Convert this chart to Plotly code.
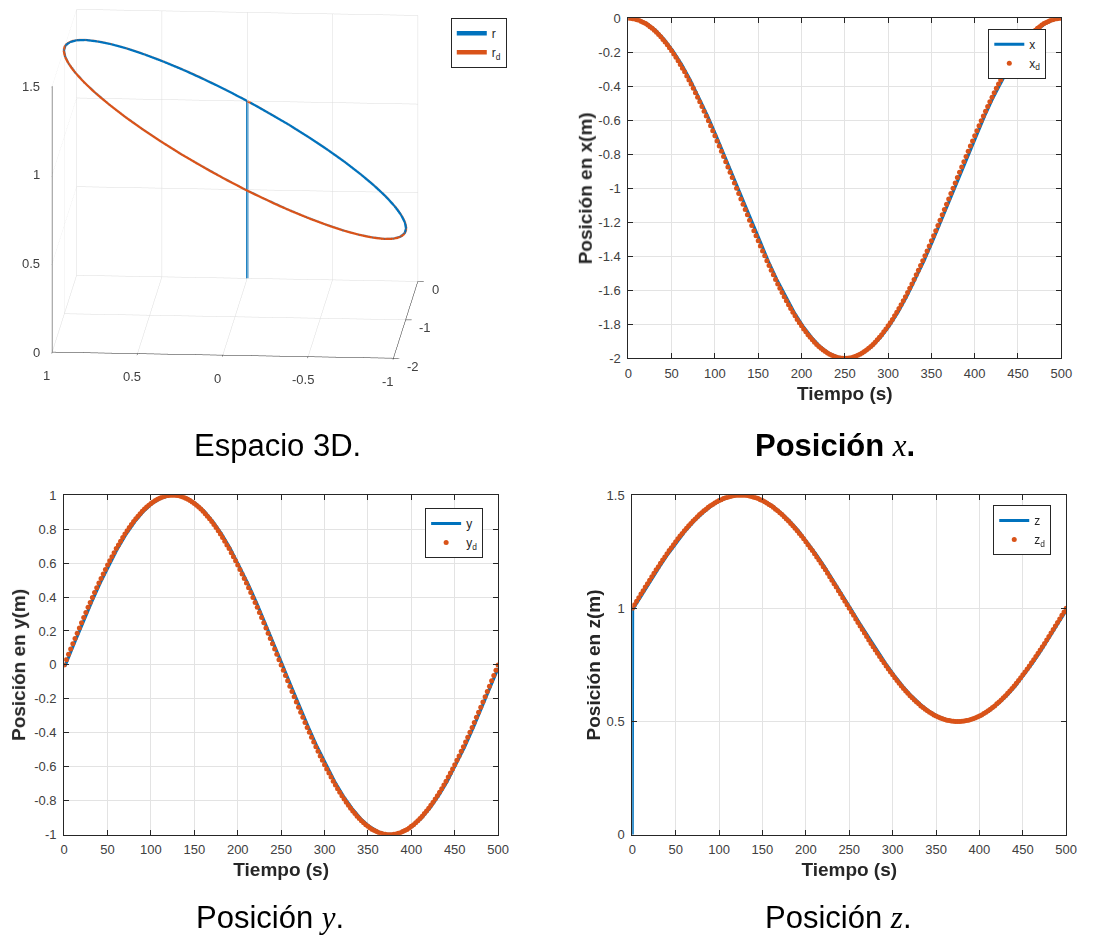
import plotly.graph_objects as go

# ---------------- data ----------------
t_d = [
    0, 2.5, 5, 7.5, 10, 12.5, 15, 17.5, 20, 22.5, 25, 27.5, 30, 32.5, 35, 37.5, 40, 42.5, 45, 47.5,
    50, 52.5, 55, 57.5, 60, 62.5, 65, 67.5, 70, 72.5, 75, 77.5, 80, 82.5, 85, 87.5, 90, 92.5, 95, 97.5,
    100, 102.5, 105, 107.5, 110, 112.5, 115, 117.5, 120, 122.5, 125, 127.5, 130, 132.5, 135, 137.5, 140, 142.5, 145, 147.5,
    150, 152.5, 155, 157.5, 160, 162.5, 165, 167.5, 170, 172.5, 175, 177.5, 180, 182.5, 185, 187.5, 190, 192.5, 195, 197.5,
    200, 202.5, 205, 207.5, 210, 212.5, 215, 217.5, 220, 222.5, 225, 227.5, 230, 232.5, 235, 237.5, 240, 242.5, 245, 247.5,
    250, 252.5, 255, 257.5, 260, 262.5, 265, 267.5, 270, 272.5, 275, 277.5, 280, 282.5, 285, 287.5, 290, 292.5, 295, 297.5,
    300, 302.5, 305, 307.5, 310, 312.5, 315, 317.5, 320, 322.5, 325, 327.5, 330, 332.5, 335, 337.5, 340, 342.5, 345, 347.5,
    350, 352.5, 355, 357.5, 360, 362.5, 365, 367.5, 370, 372.5, 375, 377.5, 380, 382.5, 385, 387.5, 390, 392.5, 395, 397.5,
    400, 402.5, 405, 407.5, 410, 412.5, 415, 417.5, 420, 422.5, 425, 427.5, 430, 432.5, 435, 437.5, 440, 442.5, 445, 447.5,
    450, 452.5, 455, 457.5, 460, 462.5, 465, 467.5, 470, 472.5, 475, 477.5, 480, 482.5, 485, 487.5, 490, 492.5, 495, 497.5,
    500,
]

x_d = [
    0.000, 0.000, -0.002, -0.004, -0.008, -0.012, -0.018, -0.024, -0.031, -0.040,
    -0.049, -0.059, -0.070, -0.082, -0.095, -0.109, -0.124, -0.139, -0.156, -0.173,
    -0.191, -0.210, -0.229, -0.250, -0.271, -0.293, -0.315, -0.339, -0.363, -0.387,
    -0.412, -0.438, -0.464, -0.491, -0.518, -0.546, -0.574, -0.603, -0.632, -0.661,
    -0.691, -0.721, -0.751, -0.782, -0.813, -0.844, -0.875, -0.906, -0.937, -0.969,
    -1.000, -1.031, -1.063, -1.094, -1.125, -1.156, -1.187, -1.218, -1.249, -1.279,
    -1.309, -1.339, -1.368, -1.397, -1.426, -1.454, -1.482, -1.509, -1.536, -1.562,
    -1.588, -1.613, -1.637, -1.661, -1.685, -1.707, -1.729, -1.750, -1.771, -1.790,
    -1.809, -1.827, -1.844, -1.861, -1.876, -1.891, -1.905, -1.918, -1.930, -1.941,
    -1.951, -1.960, -1.969, -1.976, -1.982, -1.988, -1.992, -1.996, -1.998, -2.000,
    -2.000, -2.000, -1.998, -1.996, -1.992, -1.988, -1.982, -1.976, -1.969, -1.960,
    -1.951, -1.941, -1.930, -1.918, -1.905, -1.891, -1.876, -1.861, -1.844, -1.827,
    -1.809, -1.790, -1.771, -1.750, -1.729, -1.707, -1.685, -1.661, -1.637, -1.613,
    -1.588, -1.562, -1.536, -1.509, -1.482, -1.454, -1.426, -1.397, -1.368, -1.339,
    -1.309, -1.279, -1.249, -1.218, -1.187, -1.156, -1.125, -1.094, -1.063, -1.031,
    -1.000, -0.969, -0.937, -0.906, -0.875, -0.844, -0.813, -0.782, -0.751, -0.721,
    -0.691, -0.661, -0.632, -0.603, -0.574, -0.546, -0.518, -0.491, -0.464, -0.438,
    -0.412, -0.387, -0.363, -0.339, -0.315, -0.293, -0.271, -0.250, -0.229, -0.210,
    -0.191, -0.173, -0.156, -0.139, -0.124, -0.109, -0.095, -0.082, -0.070, -0.059,
    -0.049, -0.040, -0.031, -0.024, -0.018, -0.012, -0.008, -0.004, -0.002, 0.000,
    0.000,
]

y_d = [
    0.000, 0.031, 0.063, 0.094, 0.125, 0.156, 0.187, 0.218, 0.249, 0.279,
    0.309, 0.339, 0.368, 0.397, 0.426, 0.454, 0.482, 0.509, 0.536, 0.562,
    0.588, 0.613, 0.637, 0.661, 0.685, 0.707, 0.729, 0.750, 0.771, 0.790,
    0.809, 0.827, 0.844, 0.861, 0.876, 0.891, 0.905, 0.918, 0.930, 0.941,
    0.951, 0.960, 0.969, 0.976, 0.982, 0.988, 0.992, 0.996, 0.998, 1.000,
    1.000, 1.000, 0.998, 0.996, 0.992, 0.988, 0.982, 0.976, 0.969, 0.960,
    0.951, 0.941, 0.930, 0.918, 0.905, 0.891, 0.876, 0.861, 0.844, 0.827,
    0.809, 0.790, 0.771, 0.750, 0.729, 0.707, 0.685, 0.661, 0.637, 0.613,
    0.588, 0.562, 0.536, 0.509, 0.482, 0.454, 0.426, 0.397, 0.368, 0.339,
    0.309, 0.279, 0.249, 0.218, 0.187, 0.156, 0.125, 0.094, 0.063, 0.031,
    0.000, -0.031, -0.063, -0.094, -0.125, -0.156, -0.187, -0.218, -0.249, -0.279,
    -0.309, -0.339, -0.368, -0.397, -0.426, -0.454, -0.482, -0.509, -0.536, -0.562,
    -0.588, -0.613, -0.637, -0.661, -0.685, -0.707, -0.729, -0.750, -0.771, -0.790,
    -0.809, -0.827, -0.844, -0.861, -0.876, -0.891, -0.905, -0.918, -0.930, -0.941,
    -0.951, -0.960, -0.969, -0.976, -0.982, -0.988, -0.992, -0.996, -0.998, -1.000,
    -1.000, -1.000, -0.998, -0.996, -0.992, -0.988, -0.982, -0.976, -0.969, -0.960,
    -0.951, -0.941, -0.930, -0.918, -0.905, -0.891, -0.876, -0.861, -0.844, -0.827,
    -0.809, -0.790, -0.771, -0.750, -0.729, -0.707, -0.685, -0.661, -0.637, -0.613,
    -0.588, -0.562, -0.536, -0.509, -0.482, -0.454, -0.426, -0.397, -0.368, -0.339,
    -0.309, -0.279, -0.249, -0.218, -0.187, -0.156, -0.125, -0.094, -0.063, -0.031,
    0.000,
]

z_d = [
    1.000, 1.016, 1.031, 1.047, 1.063, 1.078, 1.094, 1.109, 1.124, 1.140,
    1.155, 1.170, 1.184, 1.199, 1.213, 1.227, 1.241, 1.255, 1.268, 1.281,
    1.294, 1.307, 1.319, 1.331, 1.343, 1.354, 1.365, 1.375, 1.386, 1.395,
    1.405, 1.414, 1.422, 1.431, 1.438, 1.446, 1.453, 1.459, 1.465, 1.471,
    1.476, 1.480, 1.485, 1.488, 1.491, 1.494, 1.496, 1.498, 1.499, 1.500,
    1.500, 1.500, 1.499, 1.498, 1.496, 1.494, 1.491, 1.488, 1.485, 1.480,
    1.476, 1.471, 1.465, 1.459, 1.453, 1.446, 1.438, 1.431, 1.422, 1.414,
    1.405, 1.395, 1.386, 1.375, 1.365, 1.354, 1.343, 1.331, 1.319, 1.307,
    1.294, 1.281, 1.268, 1.255, 1.241, 1.227, 1.213, 1.199, 1.184, 1.170,
    1.155, 1.140, 1.124, 1.109, 1.094, 1.078, 1.063, 1.047, 1.031, 1.016,
    1.000, 0.984, 0.969, 0.953, 0.937, 0.922, 0.906, 0.891, 0.876, 0.860,
    0.845, 0.830, 0.816, 0.801, 0.787, 0.773, 0.759, 0.745, 0.732, 0.719,
    0.706, 0.693, 0.681, 0.669, 0.657, 0.646, 0.635, 0.625, 0.614, 0.605,
    0.595, 0.586, 0.578, 0.569, 0.562, 0.554, 0.547, 0.541, 0.535, 0.529,
    0.524, 0.520, 0.515, 0.512, 0.509, 0.506, 0.504, 0.502, 0.501, 0.500,
    0.500, 0.500, 0.501, 0.502, 0.504, 0.506, 0.509, 0.512, 0.515, 0.520,
    0.524, 0.529, 0.535, 0.541, 0.547, 0.554, 0.562, 0.569, 0.578, 0.586,
    0.595, 0.605, 0.614, 0.625, 0.635, 0.646, 0.657, 0.669, 0.681, 0.693,
    0.706, 0.719, 0.732, 0.745, 0.759, 0.773, 0.787, 0.801, 0.816, 0.830,
    0.845, 0.860, 0.876, 0.891, 0.906, 0.922, 0.937, 0.953, 0.969, 0.984,
    1.000,
]

# measured (actual) trajectory, lagging the reference slightly
t_act = [
    0, 0.5, 1.5, 11.5, 21.5, 31.5, 41.5, 51.5, 61.5, 71.5, 81.5, 91.5,
    101.5, 111.5, 121.5, 131.5, 141.5, 151.5, 161.5, 171.5, 181.5, 191.5,
    201.5, 211.5, 221.5, 231.5, 241.5, 251.5, 261.5, 271.5, 281.5, 291.5,
    301.5, 311.5, 321.5, 331.5, 341.5, 351.5, 361.5, 371.5, 381.5, 391.5,
    401.5, 411.5, 421.5, 431.5, 441.5, 451.5, 461.5, 471.5, 481.5, 491.5,
    500,
]
x_act = [
    0.000, 0.000, 0.000, -0.008, -0.031, -0.070, -0.124, -0.191, -0.271, -0.363, -0.464, -0.574,
    -0.691, -0.813, -0.937, -1.063, -1.187, -1.309, -1.426, -1.536, -1.637, -1.729,
    -1.809, -1.876, -1.930, -1.969, -1.992, -2.000, -1.992, -1.969, -1.930, -1.876,
    -1.809, -1.729, -1.637, -1.536, -1.426, -1.309, -1.187, -1.063, -0.937, -0.813,
    -0.691, -0.574, -0.464, -0.363, -0.271, -0.191, -0.124, -0.070, -0.031, -0.008,
    0.000,
]
y_act = [
    0.000, 0.000, 0.000, 0.125, 0.249, 0.368, 0.482, 0.588, 0.685, 0.771, 0.844, 0.905,
    0.951, 0.982, 0.998, 0.998, 0.982, 0.951, 0.905, 0.844, 0.771, 0.685,
    0.588, 0.482, 0.368, 0.249, 0.125, 0.000, -0.125, -0.249, -0.368, -0.482,
    -0.588, -0.685, -0.771, -0.844, -0.905, -0.951, -0.982, -0.998, -0.998, -0.982,
    -0.951, -0.905, -0.844, -0.771, -0.685, -0.588, -0.482, -0.368, -0.249, -0.125,
    -0.019,
]
z_act = [
    0.000, 1.000, 1.000, 1.063, 1.124, 1.184, 1.241, 1.294, 1.343, 1.386, 1.422, 1.453,
    1.476, 1.491, 1.499, 1.499, 1.491, 1.476, 1.453, 1.422, 1.386, 1.343,
    1.294, 1.241, 1.184, 1.124, 1.063, 1.000, 0.937, 0.876, 0.816, 0.759,
    0.706, 0.657, 0.614, 0.578, 0.547, 0.524, 0.509, 0.501, 0.501, 0.509,
    0.524, 0.547, 0.578, 0.614, 0.657, 0.706, 0.759, 0.816, 0.876, 0.937,
    0.991,
]

# tick labels
time_ticks = [0, 50, 100, 150, 200, 250, 300, 350, 400, 450, 500]
time_labels = ['0', '50', '100', '150', '200', '250', '300', '350', '400', '450', '500']
px_ticks = [0, -0.2, -0.4, -0.6, -0.8, -1, -1.2, -1.4, -1.6, -1.8, -2]
px_labels = ['0', '-0.2', '-0.4', '-0.6', '-0.8', '-1', '-1.2', '-1.4', '-1.6', '-1.8', '-2']
py_ticks = [-1, -0.8, -0.6, -0.4, -0.2, 0, 0.2, 0.4, 0.6, 0.8, 1]
py_labels = ['-1', '-0.8', '-0.6', '-0.4', '-0.2', '0', '0.2', '0.4', '0.6', '0.8', '1']
pz_ticks = [0, 0.5, 1, 1.5]
pz_labels = ['0', '0.5', '1', '1.5']
s3x_ticks = [-2, -1, 0]
s3x_labels = ['-2', '-1', '0']
s3y_ticks = [-1, -0.5, 0, 0.5, 1]
s3y_labels = ['-1', '-0.5', '0', '0.5', '1']
s3z_ticks = [0, 0.5, 1, 1.5]
s3z_labels = ['0', '0.5', '1', '1.5']

# ---------------- styling ----------------
BLUE = '#0072BD'
ORANGE = '#D95319'
FONT = 'Liberation Sans, Arial, Helvetica, sans-serif'
AX = '#262626'
TICKC = '#404040'
GRID = '#e3e3e3'
W, H = 1093, 947


def px(v):
    return v / W


def py(v):
    return 1 - v / H


fig = go.Figure()

# 3D
fig.add_trace(go.Scatter3d(x=x_act, y=y_act, z=z_act, mode='lines',
                           line=dict(color=BLUE, width=4.5), name='r', legend='legend'))
fig.add_trace(go.Scatter3d(x=x_d, y=y_d, z=z_d, mode='lines',
                           line=dict(color=ORANGE, width=4.5), name='r<sub>d</sub>', legend='legend'))

# x position
fig.add_trace(go.Scatter(x=t_act, y=x_act, mode='lines', line=dict(color=BLUE, width=3),
                         name='x', xaxis='x', yaxis='y', legend='legend2'))
fig.add_trace(go.Scatter(x=t_d, y=x_d, mode='markers', marker=dict(color=ORANGE, size=5),
                         name='x<sub>d</sub>', xaxis='x', yaxis='y', legend='legend2'))
# y position
fig.add_trace(go.Scatter(x=t_act, y=y_act, mode='lines', line=dict(color=BLUE, width=3),
                         name='y', xaxis='x2', yaxis='y2', legend='legend3'))
fig.add_trace(go.Scatter(x=t_d, y=y_d, mode='markers', marker=dict(color=ORANGE, size=5),
                         name='y<sub>d</sub>', xaxis='x2', yaxis='y2', legend='legend3'))
# z position
fig.add_trace(go.Scatter(x=t_act, y=z_act, mode='lines', line=dict(color=BLUE, width=3),
                         name='z', xaxis='x3', yaxis='y3', legend='legend4'))
fig.add_trace(go.Scatter(x=t_d, y=z_d, mode='markers', marker=dict(color=ORANGE, size=5),
                         name='z<sub>d</sub>', xaxis='x3', yaxis='y3', legend='legend4'))


def xax(dom, anchor):
    return dict(domain=dom, anchor=anchor, range=[0, 500], tickvals=time_ticks, ticktext=time_labels,
                showline=True, linecolor=AX, linewidth=1, mirror='ticks', ticks='inside', ticklen=5,
                tickcolor=AX, showgrid=True, gridcolor=GRID, zeroline=False,
                tickfont=dict(family=FONT, size=13, color=TICKC), ticklabelstandoff=3,
                title=dict(text='Tiempo (s)', font=dict(family=FONT, size=19, color=AX, weight='bold'),
                           standoff=6))


def yax(dom, anchor, rng, tv, tt, title, so):
    return dict(domain=dom, anchor=anchor, range=rng, tickvals=tv, ticktext=tt,
                showline=True, linecolor=AX, linewidth=1, mirror='ticks', ticks='inside', ticklen=5,
                tickcolor=AX, showgrid=True, gridcolor=GRID, zeroline=False,
                tickfont=dict(family=FONT, size=13, color=TICKC), ticklabelstandoff=4,
                title=dict(text=title, font=dict(family=FONT, size=19, color=AX, weight='bold'),
                           standoff=so))


def ax3(rng, tv):
    return dict(range=rng, tickvals=tv, showticklabels=False, title=dict(text=''),
                showgrid=True, gridcolor='#dcdcdc', gridwidth=1, showline=True, linecolor=AX,
                linewidth=1, showbackground=False, zeroline=False, showspikes=False,
                ticks='outside', ticklen=6, tickwidth=1, tickcolor=AX)


# tick labels of the 3D box, placed MATLAB-style next to the box edges
tick_font = dict(family=FONT, size=13, color=TICKC)
scene_ann = []
for v, lab in zip(s3y_ticks, s3y_labels):
    scene_ann.append(dict(x=-2, y=v, z=0, text=lab, showarrow=False, xanchor='center',
                          yanchor='middle', xshift=-5, yshift=-23, font=tick_font))
for v, lab in zip(s3z_ticks, s3z_labels):
    scene_ann.append(dict(x=-2, y=1, z=v, text=lab, showarrow=False, xanchor='right',
                          yanchor='middle', xshift=-10, yshift=0, font=tick_font))
for v, lab in zip(s3x_ticks, s3x_labels):
    scene_ann.append(dict(x=v, y=-1, z=0, text=lab, showarrow=False, xanchor='left',
                          yanchor='middle', xshift=12, yshift=-8, font=tick_font))

d = 3.0
k = 1.87
cz = -0.035
scene = dict(
    domain=dict(x=[px(14), px(454)], y=[py(372), py(0)]),
    xaxis=ax3([-2, 0], s3x_ticks),
    yaxis=ax3([-1, 1], s3y_ticks),
    zaxis=ax3([0, 1.5], s3z_ticks),
    aspectmode='manual', aspectratio=dict(x=0.95 * k, y=1.0 * k, z=0.8 * k),
    camera=dict(eye=dict(x=-0.969 * d, y=-0.073 * d, z=0.237 * d + cz), up=dict(x=0, y=0, z=1),
                center=dict(x=0, y=0, z=cz), projection=dict(type='orthographic')),
    bgcolor='white',
    annotations=scene_ann,
)

leg = dict(bgcolor='white', bordercolor=AX, borderwidth=1,
           font=dict(family=FONT, size=12, color=AX), xanchor='left', yanchor='top',
           itemwidth=30, tracegroupgap=0)

fig.update_layout(
    width=W, height=H, margin=dict(l=0, r=0, t=0, b=0),
    paper_bgcolor='white', plot_bgcolor='white',
    font=dict(family=FONT, color=AX),
    scene=scene,
    xaxis=xax([px(633), px(1072)], 'y'),
    yaxis=yax([py(357), py(11.5)], 'x', [-2, 0], px_ticks, px_labels, 'Posición en x(m)', 0),
    xaxis2=xax([px(61), px(501)], 'y2'),
    yaxis2=yax([py(841), py(496)], 'x2', [-1, 1], py_ticks, py_labels, 'Posición en y(m)', 3),
    xaxis3=xax([px(637), px(1077)], 'y3'),
    yaxis3=yax([py(841), py(496)], 'x3', [0, 1.5], pz_ticks, pz_labels, 'Posición en z(m)', 0),
    legend=dict(leg, x=px(453), y=py(11)),
    legend2=dict(leg, x=px(998), y=py(22)),
    legend3=dict(leg, x=px(427), y=py(509)),
    legend4=dict(leg, x=px(1003), y=py(506)),
    showlegend=True,
)

serif = "font-family:'Liberation Serif', 'DejaVu Serif', serif"
captions = [
    (277, 446, 'Espacio 3D.'),
    (843, 446, "<b>Posición</b> <span style=\"" + serif + "\"><i>x</i></span><b>.</b>"),
    (270, 925, "Posición <span style=\"" + serif + "\"><i>y</i></span>."),
    (846, 925, "Posición <span style=\"" + serif + "\"><i>z</i></span>."),
]
for cx, cy, txt in captions:
    fig.add_annotation(x=px(cx), y=py(cy), xref='paper', yref='paper', text=txt, showarrow=False,
                       xanchor='center', yanchor='middle',
                       font=dict(family=FONT, size=31, color='black'))

fig.write_html('out.html')
